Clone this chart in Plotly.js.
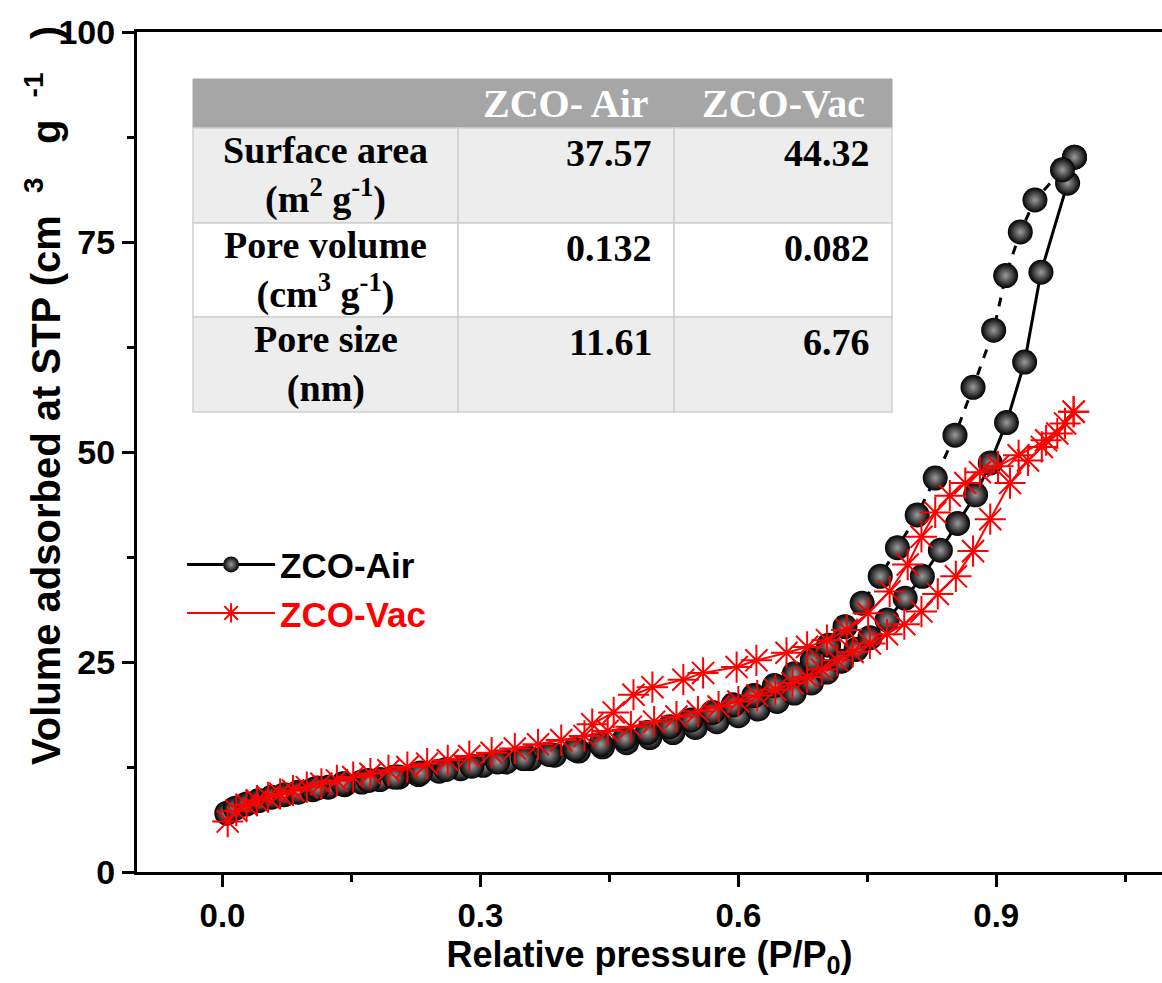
<!DOCTYPE html>
<html>
<head>
<meta charset="utf-8">
<script src="https://cdn.plot.ly/plotly-3.0.1.min.js"></script>
<style>html,body{margin:0;padding:0;background:#fff;}</style>
</head>
<body>
<div id="chart" style="width:1162px;height:983px;"></div>
<script>
// ZCO-Air adsorption branch
const airAdsP = [0.005,0.015,0.028,0.042,0.057,0.072,0.088,0.105,0.123,0.142,0.162,0.183,0.205,0.228,0.252,0.277,0.303,0.33,0.358,0.386,0.414,0.442,0.47,0.497,0.524,0.55,0.575,0.6,0.623,0.645,0.665,0.685,0.703,0.72,0.737,0.753,0.773,0.794,0.814,0.835,0.855,0.876,0.893,0.912,0.933,0.952,0.983,0.991];
const airAdsV = [7.0,7.6,8.1,8.5,8.9,9.2,9.5,9.8,10.1,10.4,10.7,11.0,11.3,11.6,12.0,12.3,12.7,13.1,13.5,13.9,14.4,14.9,15.4,16.0,16.6,17.2,17.9,18.6,19.4,20.3,21.3,22.5,23.8,25.1,26.5,27.9,30.0,32.6,35.2,38.3,41.5,44.9,48.7,53.5,60.7,71.4,82.0,85.1];
// ZCO-Air desorption branch
const airDesP = [0.991,0.977,0.945,0.928,0.911,0.897,0.873,0.852,0.829,0.808,0.785,0.765,0.744,0.724,0.705,0.686,0.665,0.642,0.618,0.594,0.57,0.545,0.52,0.494,0.468,0.44,0.41,0.38,0.35,0.32,0.29,0.26,0.23,0.2,0.17,0.14,0.11];
const airDesV = [85.1,83.6,80.0,76.2,71.0,64.5,57.7,52.0,46.9,42.5,38.6,35.2,32.0,29.2,27.0,25.2,23.6,22.2,21.0,19.9,19.0,18.1,17.3,16.6,15.9,15.2,14.6,14.0,13.5,13.1,12.6,12.2,11.8,11.3,10.9,10.5,10.0];
// ZCO-Vac adsorption branch
const vacAdsP = [0.006,0.016,0.028,0.04,0.053,0.067,0.082,0.098,0.115,0.133,0.152,0.172,0.193,0.215,0.238,0.262,0.287,0.313,0.34,0.367,0.394,0.421,0.448,0.475,0.502,0.528,0.553,0.577,0.6,0.622,0.643,0.663,0.68,0.697,0.715,0.733,0.753,0.773,0.793,0.813,0.832,0.853,0.873,0.893,0.916,0.937,0.953,0.971,0.99];
const vacAdsV = [6.0,7.3,8.0,8.5,8.9,9.3,9.7,10.1,10.5,10.9,11.3,11.7,12.1,12.5,12.9,13.3,13.8,14.2,14.7,15.2,15.7,16.2,16.8,17.3,17.9,18.5,19.1,19.7,20.3,21.0,21.7,22.5,23.2,24.1,25.2,26.2,27.2,28.3,29.5,31.0,33.1,35.2,38.2,42.0,46.3,49.0,50.6,52.2,54.8];
// ZCO-Vac desorption branch
const vacDesP = [0.99,0.98,0.958,0.926,0.902,0.881,0.864,0.846,0.829,0.813,0.797,0.776,0.751,0.726,0.703,0.68,0.656,0.621,0.598,0.559,0.536,0.5,0.478,0.455,0.43];
const vacDesV = [54.8,53.4,51.4,49.6,48.3,47.6,46.3,44.8,42.8,39.9,36.6,33.4,30.8,28.8,27.6,26.8,26.1,25.2,24.4,23.7,22.9,22.0,21.1,19.0,17.6];

// inset table contents
const tableHeader = ["ZCO- Air", "ZCO-Vac"];
const rowLabels = ["Surface area<br>(m<sup>2</sup> g<sup>-1</sup>)", "Pore volume<br>(cm<sup>3</sup> g<sup>-1</sup>)", "Pore size<br>(nm)"];
const tableAir = ["37.57", "0.132", "11.61"];
const tableVac = ["44.32", "0.082", "6.76"];

const xTickVals = [0, 0.3, 0.6, 0.9];
const xTickText = ["0.0", "0.3", "0.6", "0.9"];
const yTickVals = [0, 25, 50, 75, 100];

const sans = "Liberation Sans, Arial, sans-serif";
const serif = "Liberation Serif, Times New Roman, serif";

const sphere = {symbol: "circle", size: 25, color: "#000000",
  gradient: {type: "radial", color: "#9c9c9c"}, line: {width: 0}};
const star = {symbol: "asterisk-open", size: 26, color: "#ff0000",
  line: {width: 2, color: "#ff0000"}};

const traces = [
  {type: "scatter", mode: "lines+markers", x: airAdsP, y: airAdsV, name: "ZCO-Air",
   legendgroup: "air", line: {color: "#000000", width: 3}, marker: sphere},
  {type: "scatter", mode: "lines+markers", x: airDesP, y: airDesV, name: "ZCO-Air",
   legendgroup: "air", showlegend: false, line: {color: "#000000", width: 3, dash: "dash"}, marker: sphere},
  {type: "scatter", mode: "lines+markers", x: vacAdsP, y: vacAdsV,
   name: '<span style="color:#ff0000">ZCO-Vac</span>',
   legendgroup: "vac", line: {color: "#ff0000", width: 2}, marker: star},
  {type: "scatter", mode: "lines+markers", x: vacDesP, y: vacDesV, name: "ZCO-Vac",
   legendgroup: "vac", showlegend: false, line: {color: "#ff0000", width: 2}, marker: star}
];

// ---- page / inset geometry in pixels ----
const M = {l: 137, r: 0, t: 32, b: 111};
const W = 1162, H = 983;
const PW = W - M.l - M.r, PH = H - M.t - M.b;
const px = v => (v - M.l) / PW;
const py = v => (H - M.b - v) / PH;
const colX = [193, 458, 674, 892];
const rowY = [79, 128, 223, 317, 412];
const rowFill = ["#ededed", "#ffffff", "#ededed"];
const gridColor = "#d0d0d0";
const tFont = {family: serif, size: 38, color: "#000000", weight: "bold"};

const shapes = [];
const annotations = [];
shapes.push({type: "rect", xref: "paper", yref: "paper", layer: "above",
  x0: px(colX[0]), x1: px(colX[3]), y0: py(rowY[0]), y1: py(rowY[1]),
  fillcolor: "#a6a6a6", line: {color: "#a6a6a6", width: 1}});
for (let r = 0; r < 3; r++) {
  for (let c = 0; c < 3; c++) {
    shapes.push({type: "rect", xref: "paper", yref: "paper", layer: "above",
      x0: px(colX[c]), x1: px(colX[c + 1]), y0: py(rowY[r + 1]), y1: py(rowY[r + 2]),
      fillcolor: rowFill[r], line: {color: gridColor, width: 1.5}});
  }
}
tableHeader.forEach((t, i) => {
  annotations.push({xref: "paper", yref: "paper", showarrow: false,
    x: px((colX[i + 1] + colX[i + 2]) / 2), y: py(rowY[0] + 24.5),
    xanchor: "center", yanchor: "middle", text: t,
    font: Object.assign({}, tFont, {size: 40, color: "#ffffff"})});
});
for (let r = 0; r < 3; r++) {
  const top = rowY[r + 1];
  annotations.push({xref: "paper", yref: "paper", showarrow: false,
    x: px((colX[0] + colX[1]) / 2), y: py(top + 47), xanchor: "center", yanchor: "middle",
    text: rowLabels[r], font: tFont});
  annotations.push({xref: "paper", yref: "paper", showarrow: false,
    x: px(colX[2] - 20), y: py(top + 25), xanchor: "right", yanchor: "middle",
    text: tableAir[r], font: tFont});
  annotations.push({xref: "paper", yref: "paper", showarrow: false,
    x: px(colX[3] - 20), y: py(top + 25), xanchor: "right", yanchor: "middle",
    text: tableVac[r], font: tFont});
}

// y-axis title (placed as rotated text, centred where the reference puts it)
const nb = "\u00a0";
annotations.push({xref: "paper", yref: "paper", showarrow: false,
  x: px(43), y: py(396), xanchor: "center", yanchor: "middle", textangle: -90,
  text: "Volume adsorbed at STP (cm" + nb + nb + "<sup>3</sup>" + nb + nb + nb + "g" + nb + nb + "<sup>-1</sup>" + nb + nb + nb + ")",
  font: {family: sans, size: 40, color: "#000000", weight: "bold"}});

const layout = {
  width: W, height: H,
  margin: M,
  paper_bgcolor: "#ffffff", plot_bgcolor: "#ffffff",
  showlegend: true,
  legend: {x: 0.044, y: 0.401, xanchor: "left", yanchor: "top",
    bgcolor: "rgba(0,0,0,0)", itemwidth: 88, tracegroupgap: 0,
    font: {family: sans, size: 35, color: "#000000", weight: "bold"}},
  xaxis: {range: [-0.0995, 1.0928], tickvals: xTickVals, ticktext: xTickText,
    showgrid: false, zeroline: false, showline: true, mirror: true,
    linecolor: "#000000", linewidth: 3,
    ticks: "outside", ticklen: 12, tickwidth: 3, tickcolor: "#000000",
    minor: {dtick: 0.15, tick0: 0, ticks: "outside", ticklen: 7, tickwidth: 3, tickcolor: "#000000", showgrid: false},
    tickfont: {family: sans, size: 33, color: "#000000", weight: "bold"},
    title: {text: "Relative pressure (P/P<sub>0</sub>)", standoff: 8,
      font: {family: sans, size: 36, color: "#000000", weight: "bold"}}},
  yaxis: {range: [0, 100], tickvals: yTickVals,
    showgrid: false, zeroline: false, showline: true, mirror: false,
    linecolor: "#000000", linewidth: 3,
    ticks: "outside", ticklen: 12, tickwidth: 3, tickcolor: "#000000",
    minor: {dtick: 12.5, tick0: 0, ticks: "outside", ticklen: 7, tickwidth: 3, tickcolor: "#000000", showgrid: false},
    tickfont: {family: sans, size: 34, color: "#000000", weight: "bold"}},
  shapes: shapes,
  annotations: annotations
};

Plotly.newPlot("chart", traces, layout, {displayModeBar: false, staticPlot: true});
</script>
</body>
</html>
